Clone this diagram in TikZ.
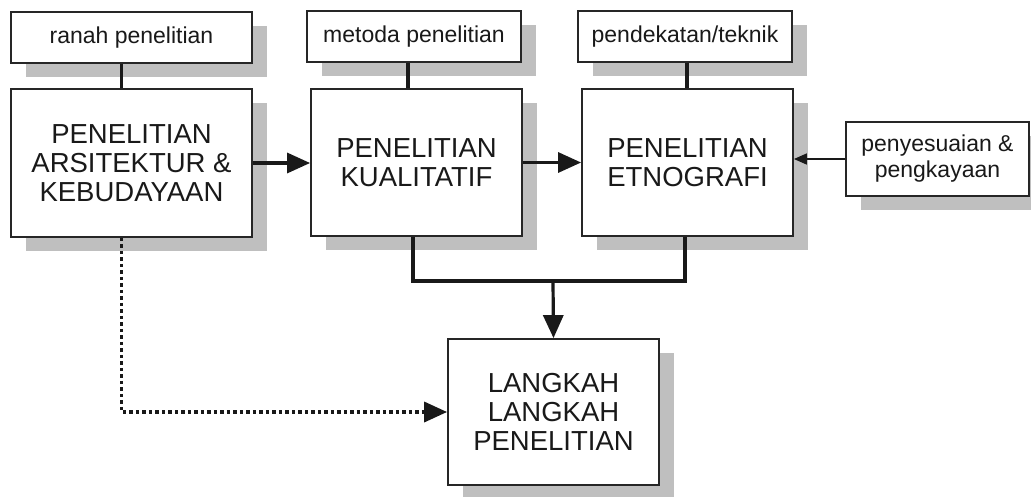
\documentclass[tikz,border=0pt]{standalone}
\usepackage{fontspec}
\setmainfont{Liberation Sans}
\usetikzlibrary{arrows.meta,shadows}

\begin{document}
\begin{tikzpicture}[x=1pt,y=-1pt,
  boxsty/.style={draw=black!85, line width=1.8pt, fill=white, inner sep=0pt, align=center,
    text=black!90, drop shadow={shadow xshift=15pt, shadow yshift=-14pt, fill=black!25, opacity=1}},
  bigsty/.style={boxsty, minimum width=211pt, minimum height=147pt,
    font=\fontsize{27.5}{29}\selectfont},
  smallsty/.style={boxsty, minimum height=51pt, font=\fontsize{23}{26}\selectfont},
  linesty/.style={color=black!90, line width=3.2pt},
  arrsty/.style={linesty, -{Triangle[length=23pt,width=20pt]}},
  thinsty/.style={color=black!90, line width=1.5pt, -{Triangle[length=13pt,width=11pt]}},
  dotsty/.style={arrsty, line width=3.5pt, dash pattern=on 3.5pt off 3pt}]

\useasboundingbox (0,0) rectangle (1031,496);

% Top row: small label boxes
\node[smallsty, minimum width=241pt] (ranah) at (131.5,37.5) {ranah penelitian};
\node[smallsty, minimum width=214pt] (metoda) at (414,36.5) {metoda penelitian};
\node[smallsty, minimum width=214pt] (teknik) at (685,36.5) {pendekatan/teknik};

% Main row
\node[bigsty, minimum width=241pt, minimum height=148pt] (arsi) at (131.5,163)
  {PENELITIAN\\ARSITEKTUR \&\\KEBUDAYAAN};
\node[bigsty] (kual) at (416.5,162.5) {PENELITIAN\\KUALITATIF};
\node[bigsty] (etno) at (687.5,162.5) {PENELITIAN\\ETNOGRAFI};
\node[boxsty, minimum width=183pt, minimum height=74pt,
  font=\fontsize{23}{26}\selectfont] (sesuai) at (937.5,159)
  {penyesuaian \&\\pengkayaan};

% Bottom box
\node[bigsty, minimum height=146pt] (langkah) at (553.5,412)
  {LANGKAH\\LANGKAH\\PENELITIAN};

% Connectors from the label boxes
\draw[linesty] ([xshift=-10pt]ranah.south) -- ([xshift=-10pt]ranah.south |- arsi.north);
\draw[linesty] ([xshift=-6pt]metoda.south) -- ([xshift=-6pt]metoda.south |- kual.north);
\draw[linesty] ([xshift=2pt]teknik.south) -- ([xshift=2pt]teknik.south |- etno.north);

% Arrows along the main row
\draw[arrsty] (arsi.east) -- (arsi.east -| kual.west);
\draw[arrsty] (kual.east) -- (kual.east -| etno.west);
\draw[thinsty] (sesuai.west) -- (sesuai.west -| etno.east);

% Joining bar down to the steps
\coordinate (join) at (553,281);
\draw[linesty] ([xshift=-3.5pt]kual.south) |- (join) -| ([xshift=-2.5pt]etno.south);
\draw[arrsty] (join) -- (langkah.north);

% Dotted link
\draw[dotsty] ([xshift=-10pt]arsi.south) |- (langkah.west);

\end{tikzpicture}
\end{document}
